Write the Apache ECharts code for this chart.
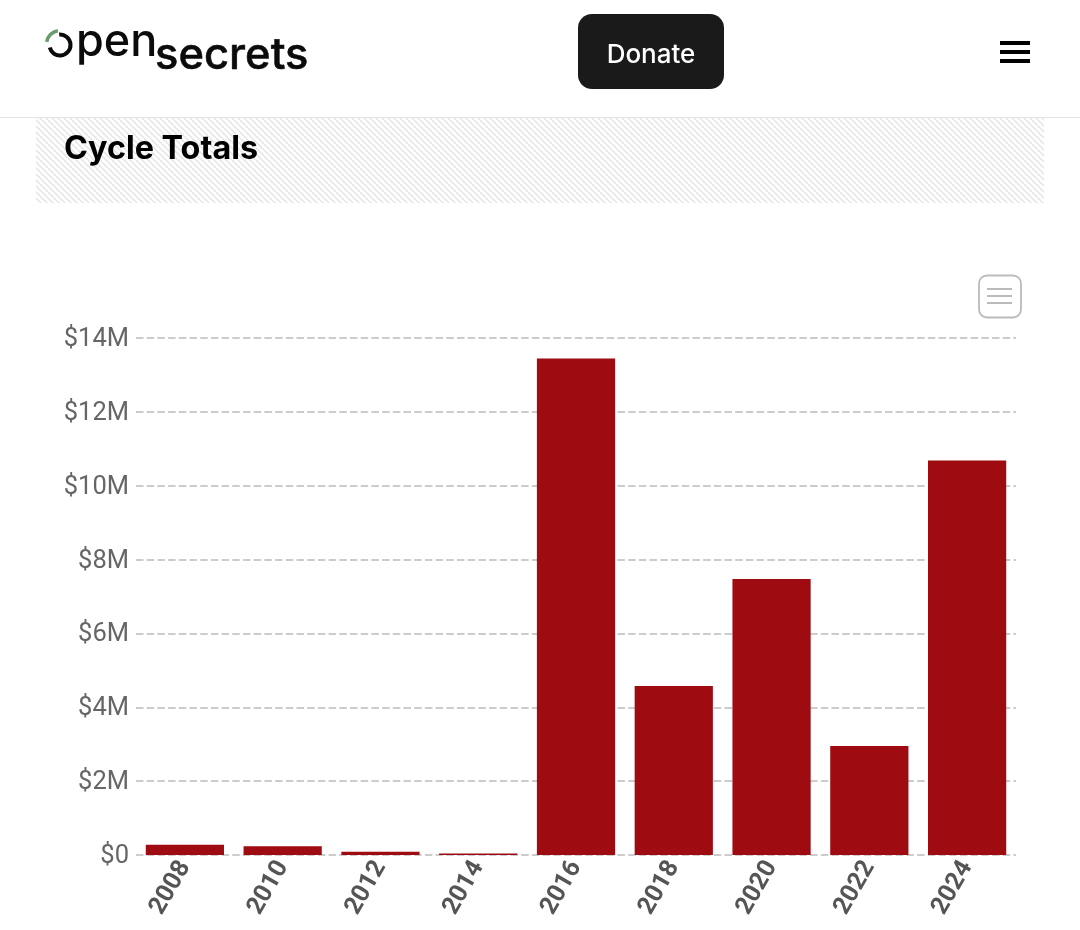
<!DOCTYPE html>
<html>
<head>
<meta charset="utf-8">
<style>html,body{margin:0;padding:0;background:#fff}#c{width:1080px;height:930px}</style>
<script src="https://cdn.jsdelivr.net/npm/echarts@6/dist/echarts.min.js"></script>
</head>
<body>
<div id="c"></div>
<script>
const categories = ['2008','2010','2012','2014','2016','2018','2020','2022','2024'];
const totals = [280000,240000,90000,40000,13450000,4580000,7480000,2950000,10690000];
const yTickStep = 2000000;
const yMax = 14000000;
const titleText = 'Cycle Totals';
const donateText = 'Donate';

function hatch(){
  const s = 6, c = document.createElement('canvas');
  c.width = s; c.height = s;
  const g = c.getContext('2d');
  g.fillStyle = '#fff'; g.fillRect(0,0,s,s);
  g.strokeStyle = '#e8e8e8'; g.lineWidth = 1.3;
  [[-s,0,s,2*s],[0,0,s,s],[0,-s,2*s,s],[-s,-s,s,s]].forEach(p=>{
    g.beginPath(); g.moveTo(p[0],p[1]); g.lineTo(p[2],p[3]); g.stroke();
  });
  return c;
}
const menuLine = y => ({type:'line',shape:{x1:987,y1:y,x2:1012,y2:y},style:{stroke:'#aaa',lineWidth:1.6},z:5});
const burger = y => ({type:'rect',shape:{x:1000,y:y,width:30,height:4},style:{fill:'#000'},z:5});

const chart = echarts.init(document.getElementById('c'), null, {renderer:'canvas'});
chart.setOption({
  animation:false,
  backgroundColor:'#fff',
  title:{text:titleText,left:59,top:126.5,textStyle:{fontFamily:'Inter',fontWeight:700,fontSize:32.3,color:'#000',lineHeight:36}},
  grid:{left:136,right:64,top:338.2,bottom:75},
  xAxis:{type:'category',data:categories,
    axisLine:{show:false},axisTick:{show:false},
    axisLabel:{rotate:60,interval:0,margin:8,fontFamily:'Roboto',fontWeight:700,fontSize:25,color:'#555'}},
  yAxis:{type:'value',min:0,max:yMax,interval:yTickStep,
    axisLine:{show:false},axisTick:{show:false},
    axisLabel:{margin:7,verticalAlign:'top',lineHeight:3,fontFamily:'Roboto',fontSize:25.5,color:'#666',
      formatter:v=>v===0?'$0':'$'+(v/1000000)+'M'},
    splitLine:{lineStyle:{color:'#ccc',width:2,type:[7.5,3.2]}}},
  series:[{type:'bar',data:totals,barCategoryGap:'20%',itemStyle:{color:'#9e0b10'}}],
  graphic:{elements:[
    {type:'rect',shape:{x:36,y:118,width:1008,height:85},style:{fill:{image:hatch(),repeat:'repeat'}},z:0},
    {type:'line',shape:{x1:0,y1:117.5,x2:1080,y2:117.5},style:{stroke:'#e4e4e4',lineWidth:1},z:1},
    {type:'arc',shape:{cx:60,cy:45,r:10.5,startAngle:-1.65,endAngle:2.9,clockwise:true},style:{stroke:'#0b0b0b',lineWidth:4,fill:'none'},z:5},
    {type:'arc',shape:{cx:60,cy:44,r:13.5,startAngle:3.3,endAngle:4.55,clockwise:true},style:{stroke:'#6a9c6a',lineWidth:3.6,fill:'none'},z:5},
    {type:'text',style:{text:'pen',x:76,y:20,font:'500 45px Inter',fill:'#0b0b0b'},z:5},
    {type:'text',style:{text:'secrets',x:155,y:34,font:'500 43.5px Inter',fill:'#0b0b0b',stroke:'#0b0b0b',lineWidth:0.5},z:5},
    {type:'rect',shape:{x:578,y:14,width:146,height:75,r:14},style:{fill:'#1a1a1a'},z:5},
    {type:'text',style:{text:donateText,x:651,y:55,align:'center',verticalAlign:'middle',font:'500 26px Inter',fill:'#fff'},z:6},
    burger(41),burger(50),burger(59),
    {type:'rect',shape:{x:979,y:275.5,width:42,height:42,r:8},style:{fill:'#fff',stroke:'#bbb',lineWidth:1.8},z:5},
    menuLine(289),menuLine(296),menuLine(303)
  ]}
});
</script>
</body>
</html>
